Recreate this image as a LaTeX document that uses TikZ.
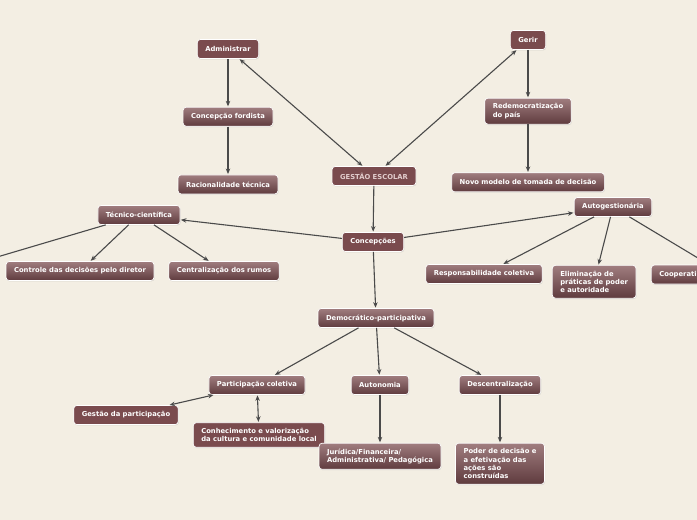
\documentclass[tikz,border=0pt]{standalone}
\usepackage{fontspec}
\setsansfont{DejaVu Sans}
\usepackage{tikz}
\usetikzlibrary{positioning, arrows.meta, shadows}
\definecolor{paper}{HTML}{F3EEE3}
\definecolor{topicbg}{HTML}{7A4B4E}
\definecolor{topictop}{HTML}{A07D7F}
\definecolor{topicbot}{HTML}{5F3B3E}
\definecolor{linkcol}{HTML}{4A4A4A}
\definecolor{maintext}{HTML}{E2CDCD}
\tikzset{
  topic base/.style={
    draw=white,
    line width=0.7pt,
    rounded corners=3pt,
    text=white,
    font=\sffamily\bfseries\fontsize{6.8}{8.2}\selectfont,
    align=left,
    inner xsep=8pt,
    inner ysep=5.5pt,
    minimum height=19pt,
    drop shadow={opacity=0.22, shadow xshift=0.6pt, shadow yshift=-0.9pt}
  },
  topic/.style={topic base, top color=topictop, bottom color=topicbot},
  flat topic/.style={topic base, fill=topicbg},
  >={Stealth[length=5.5pt, width=4.5pt]},
  link/.style={->, line width=1.1pt, color=linkcol, shorten >=0.5pt},
  both link/.style={<->, line width=1.1pt, color=linkcol, shorten >=0.5pt, shorten <=0.5pt}
}

\begin{document}
\begin{tikzpicture}[x=1pt, y=-1pt, node distance=48pt]
  \fill[paper] (0,0) rectangle (697,520);
  \useasboundingbox (0,0) rectangle (697,520);
  \clip (0,0) rectangle (697,520);

  % Centre
  \node[flat topic, text=maintext] (gestao) at (374,176) {GESTÃO ESCOLAR};

  % Administrar
  \node[flat topic] (administrar) at (228,49) {Administrar};
  \node[topic, below=of administrar] (fordista) {Concepção fordista};
  \node[topic, below=of fordista] (racional) {Racionalidade técnica};

  % Gerir
  \node[flat topic] (gerir) at (528,40) {Gerir};
  \node[topic, below=of gerir] (redemo) {Redemocratização\\do país};
  \node[topic, below=of redemo] (novo) {Novo modelo de tomada de decisão};

  % Concepções
  \node[flat topic] (concepcoes) at (373,242) {Concepções};
  \node[topic] (tecnico) at (139,215) {Técnico-científica};
  \node[topic] (autogest) at (613,207) {Autogestionária};
  \node[topic] (democ) at (376,318) {Democrático-participativa};

  % Técnico-científica
  \node[topic] (controle) at (80,271) {Controle das decisões pelo diretor};
  \node[topic] (central) at (224,271) {Centralização dos rumos};
  \coordinate (offleft) at (-40,268);

  % Autogestionária
  \node[topic] (respons) at (484,274) {Responsabilidade coletiva};
  \node[topic, anchor=north west] (elimina) at (552,265) {Eliminação de\\práticas de poder\\e autoridade};
  \node[topic, anchor=west, text width=132pt] (coop) at (651,274.5) {Cooperati};

  % Democrático-participativa
  \node[topic] (particip) at (257,385) {Participação coletiva};
  \node[topic] (autonomia) at (380,385) {Autonomia};
  \node[topic] (descent) at (500,385) {Descentralização};
  \node[flat topic] (gestpart) at (126,415) {Gestão da participação};
  \node[flat topic] (conhec) at (259,435) {Conhecimento e valorização\\da cultura e comunidade local};
  \node[topic, below=of autonomia] (juridica) {Jurídica/Financeira/\\Administrativa/ Pedagógica};
  \node[topic, below=of descent] (poder) {Poder de decisão e\\a efetivação das\\ações são\\construídas};

  % Links
  \draw[both link] (gestao) -- (administrar);
  \draw[both link] (gestao) -- (gerir);
  \draw[link] (administrar) -- (fordista);
  \draw[link] (fordista) -- (racional);
  \draw[link] (gerir) -- (redemo);
  \draw[link] (redemo) -- (novo);
  \draw[link] (gestao) -- (concepcoes);
  \draw[link] (concepcoes) -- (tecnico);
  \draw[link] (concepcoes) -- (autogest);
  \draw[link] (concepcoes) -- (democ);
  \draw[link] (tecnico) -- (offleft);
  \draw[link] (tecnico) -- (controle);
  \draw[link] (tecnico) -- (central);
  \draw[link] (autogest) -- (respons);
  \draw[link] (autogest) -- (elimina);
  \draw[link] (autogest) -- (coop);
  \draw[link] (democ) -- (particip);
  \draw[link] (democ) -- (autonomia);
  \draw[link] (democ) -- (descent);
  \draw[both link] (particip) -- (gestpart);
  \draw[both link] (particip) -- (conhec);
  \draw[link] (autonomia) -- (juridica);
  \draw[link] (descent) -- (poder);
\end{tikzpicture}
\end{document}
